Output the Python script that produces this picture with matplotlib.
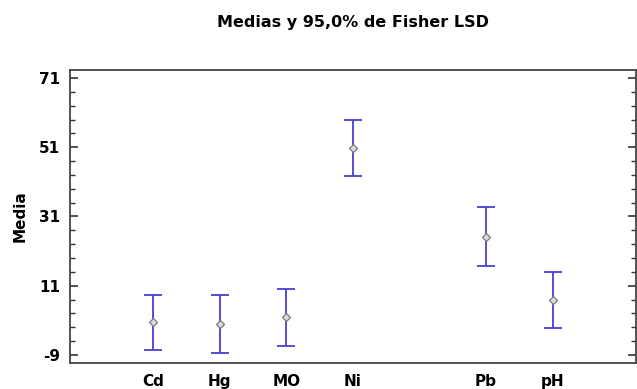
import matplotlib
matplotlib.use("Agg")
import matplotlib.pyplot as plt
from matplotlib.ticker import MultipleLocator, FixedLocator

plt.rcParams['font.family'] = ['DejaVu Sans']
plt.rcParams['font.weight'] = 'bold'
plt.rcParams['axes.unicode_minus'] = False

# data
labels = ['Cd', 'Hg', 'MO', 'Ni', 'Pb', 'pH']
positions = [1, 2, 3, 4, 6, 7]
means = [0.4, -0.05, 1.9, 50.8, 25.2, 6.8]
half_lsd = [8.05, 8.5, 8.2, 8.1, 8.5, 8.15]
yticks = [-9, 11, 31, 51, 71]

fig = plt.figure(figsize=(6.37, 3.89), dpi=100)
ax = fig.add_axes([0.110, 0.067, 0.888, 0.753])

ax.errorbar(positions, means, yerr=half_lsd, fmt='none', ecolor='#4a3fd0',
            elinewidth=1.3, capsize=6.5, capthick=1.3)
ax.plot(positions, means, linestyle='none', marker='D', markersize=4.5,
        markerfacecolor='#dcdcdc', markeredgecolor='#7a7a7a', markeredgewidth=0.9)

ax.set_xlim(-0.25, 8.25)
ax.set_ylim(-11.3, 73.3)
ax.set_xticks(positions)
ax.set_xticklabels(labels, fontsize=11, fontweight='bold')
ax.tick_params(axis='x', length=0, pad=8)

ax.yaxis.set_major_locator(FixedLocator(yticks))
ax.yaxis.set_minor_locator(MultipleLocator(4, offset=-9))
ax.tick_params(axis='y', which='major', direction='in', length=6, width=1.2,
               left=True, right=True, labelsize=11, pad=7, color='#333333')
ax.tick_params(axis='y', which='minor', direction='in', length=3.5, width=1.0,
               left=True, right=True, color='#333333')
for t in ax.get_yticklabels():
    t.set_fontweight('bold')

for s in ax.spines.values():
    s.set_color('#444444')
    s.set_linewidth(1.3)

ax.set_ylabel('Media', fontsize=11, fontweight='bold', labelpad=8)
ax.set_title('Medias y 95,0% de Fisher LSD', fontsize=11.5, fontweight='bold', pad=31)

fig.savefig('out.png', dpi=100)
